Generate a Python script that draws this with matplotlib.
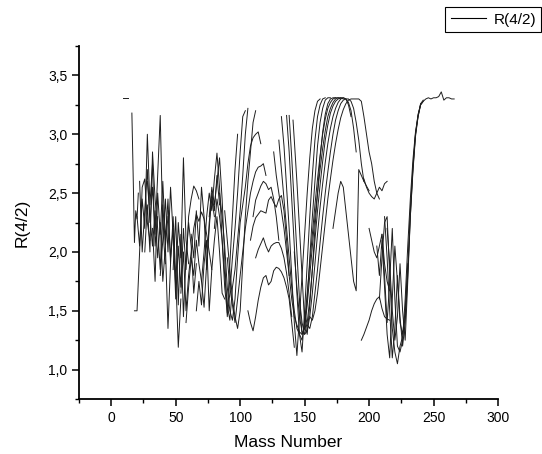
import matplotlib
matplotlib.use("Agg")
import matplotlib.pyplot as plt
from matplotlib.ticker import MultipleLocator, FuncFormatter
from matplotlib.lines import Line2D

plt.rcParams['font.family'] = ['Liberation Sans', 'DejaVu Sans']

# ---- isotope chains: mass number A and ratio R(4/2) ----
A_c01 = [9, 13]
R_c01 = [3.31, 3.31]
A_c02 = [16, 17, 18, 19, 20, 21]
R_c02 = [3.18, 2.65, 2.08, 2.35, 2.28, 2.5]
A_c03 = [18, 20, 22, 24, 26, 28, 30]
R_c03 = [1.5, 1.5, 2.0, 2.55, 2.62, 2.25, 2.1]
A_c04 = [20, 22, 24, 26, 28, 30, 32, 34, 36]
R_c04 = [2.3, 2.05, 2.45, 2.2, 3.0, 2.4, 2.75, 2.05, 2.3]
A_c05 = [22, 24, 26, 28, 30, 32, 34, 36, 38, 40, 42]
R_c05 = [2.6, 2.0, 2.35, 2.7, 2.25, 2.55, 2.15, 2.65, 3.16, 2.2, 1.9]
A_c06 = [26, 28, 30, 32, 34, 36, 38, 40, 42, 44]
R_c06 = [2.0, 2.4, 2.0, 2.85, 2.45, 2.2, 1.85, 2.4, 2.05, 2.3]
A_c07 = [28, 30, 32, 34, 36, 38, 40, 42, 44, 46]
R_c07 = [2.6, 2.3, 2.05, 2.35, 1.95, 2.25, 1.75, 2.05, 1.35, 1.9]
A_c08 = [32, 34, 36, 38, 40, 42, 44, 46, 48, 50, 52, 54]
R_c08 = [2.2, 1.75, 2.5, 2.15, 2.6, 2.1, 2.45, 1.9, 2.3, 1.8, 1.19, 1.6]
A_c09 = [38, 40, 42, 44, 46, 48, 50, 52, 54, 56, 58, 60]
R_c09 = [1.8, 2.1, 2.45, 2.0, 2.55, 2.15, 1.7, 2.25, 1.95, 2.8, 2.1, 1.9]
A_c10 = [44, 46, 48, 50, 52, 54, 56, 58, 60, 62, 64, 66, 68]
R_c10 = [2.35, 1.95, 2.2, 1.6, 2.05, 1.7, 2.2, 1.85, 2.3, 2.45, 2.56, 2.52, 2.45]
A_c11 = [48, 50, 52, 54, 56, 58, 60, 62, 64, 66]
R_c11 = [1.85, 2.3, 1.55, 2.15, 1.45, 1.95, 2.25, 2.05, 1.65, 1.9]
A_c12 = [54, 56, 58, 60, 62, 64, 66, 68, 70, 72, 74, 76, 78]
R_c12 = [1.65, 2.0, 1.5, 1.8, 2.0, 2.2, 2.32, 2.26, 2.34, 2.28, 2.15, 2.0, 1.85]
A_c13 = [58, 60, 62, 64, 66, 68, 70, 72, 74, 76, 78, 80]
R_c13 = [1.4, 1.7, 1.95, 1.8, 2.1, 1.9, 1.75, 1.53, 1.9, 2.25, 2.45, 2.3]
A_c14 = [62, 64, 66, 68, 70, 72, 74, 76, 78, 80, 82, 84]
R_c14 = [2.15, 1.95, 2.35, 2.05, 2.55, 2.3, 1.85, 2.2, 2.5, 2.35, 2.65, 2.4]
A_c15 = [70, 72, 74, 76, 78, 80, 82, 84, 86, 88, 90, 92, 94, 96, 98]
R_c15 = [1.75, 2.0, 2.3, 2.5, 2.35, 2.62, 2.84, 2.55, 2.1, 1.7, 1.48, 1.9, 2.3, 2.7, 3.0]
A_c16 = [76, 78, 80, 82, 84, 86, 88, 90, 92, 94, 96, 98, 100, 102, 104]
R_c16 = [2.3, 2.55, 2.4, 2.6, 2.8, 2.45, 1.95, 1.45, 1.65, 1.95, 2.2, 2.5, 2.85, 3.15, 3.2]
A_c17 = [80, 82, 84, 86, 88, 90, 92, 94, 96, 98, 100, 102, 104, 106]
R_c17 = [2.2, 2.45, 2.3, 2.1, 1.8, 1.55, 1.42, 1.7, 1.85, 2.1, 2.35, 2.65, 3.0, 3.22]
A_c18 = [84, 86, 88, 90, 92, 94, 96, 98, 100, 102, 104, 106, 108, 110, 112, 114, 116]
R_c18 = [2.5, 2.3, 2.05, 1.7, 1.5, 1.42, 1.6, 1.95, 2.25, 2.4, 2.55, 2.75, 2.9, 2.97, 3.0, 3.02, 2.92]
A_c19 = [88, 90, 92, 94, 96, 98, 100, 102, 104, 106, 108, 110, 112]
R_c19 = [2.35, 2.1, 1.85, 1.6, 1.45, 1.35, 1.5, 1.9, 2.3, 2.6, 2.85, 3.1, 3.2]
A_c20 = [90, 92, 94, 96, 98, 100, 102, 104, 106, 108, 110, 112, 114, 116, 118, 120]
R_c20 = [1.95, 1.7, 1.55, 1.4, 1.6, 1.8, 2.0, 2.2, 2.35, 2.5, 2.6, 2.68, 2.72, 2.73, 2.75, 2.65]
A_c21 = [106, 108, 110, 112, 114, 116, 118, 120, 122, 124, 126, 128, 130, 132, 134, 136, 138, 140, 142]
R_c21 = [1.5, 1.4, 1.33, 1.45, 1.59, 1.7, 1.78, 1.8, 1.72, 1.75, 1.84, 1.87, 1.86, 1.83, 1.78, 1.7, 1.6, 1.4, 1.19]
A_c22 = [112, 114, 116, 118, 120, 122, 124, 126, 128, 130, 132, 134, 136, 138, 140]
R_c22 = [1.95, 2.02, 2.07, 2.12, 2.05, 2.0, 2.05, 2.07, 2.08, 2.08, 2.03, 1.95, 1.82, 1.65, 1.45]
A_c23 = [108, 110, 112, 114, 116, 118, 120, 122, 124, 126, 128, 130, 132, 134, 136, 138]
R_c23 = [2.1, 2.22, 2.29, 2.32, 2.35, 2.34, 2.33, 2.44, 2.47, 2.42, 2.38, 2.45, 2.48, 2.35, 2.1, 1.8]
A_c24 = [110, 112, 114, 116, 118, 120, 122, 124, 126, 128, 130]
R_c24 = [2.3, 2.44, 2.5, 2.56, 2.6, 2.58, 2.53, 2.55, 2.45, 2.3, 2.1]
A_c25 = [66, 68, 70, 72, 74, 76, 78, 80, 82, 84, 86, 88]
R_c25 = [1.5, 1.75, 1.55, 1.9, 2.1, 1.5, 1.85, 2.1, 2.3, 2.0, 1.65, 1.6]

# rare-earth chains
A_k0 = [132, 134, 136, 138, 140, 142, 144, 146, 148, 150, 152, 154, 156, 158, 160, 162]
R_k0 = [3.15, 2.9, 2.55, 2.2, 1.8, 1.4, 1.12, 1.45, 1.8, 2.15, 2.5, 2.8, 3.05, 3.2, 3.28, 3.3]
A_k1 = [136, 138, 140, 142, 144, 146, 148, 150, 152, 154, 156, 158, 160, 162, 164, 166]
R_k1 = [3.16, 2.85, 2.45, 2.05, 1.65, 1.3, 1.15, 1.5, 1.9, 2.3, 2.65, 2.95, 3.15, 3.25, 3.3, 3.31]
A_k2 = [138, 140, 142, 144, 146, 148, 150, 152, 154, 156, 158, 160, 162, 164, 166, 168, 170]
R_k2 = [3.16, 2.8, 2.4, 2.0, 1.6, 1.3, 1.35, 1.6, 1.95, 2.3, 2.6, 2.9, 3.1, 3.22, 3.29, 3.31, 3.31]
A_k3 = [141, 142, 144, 146, 148, 150, 152, 154, 156, 158, 160, 162, 164, 166, 168, 170, 172, 174]
R_k3 = [3.12, 2.95, 2.6, 2.2, 1.8, 1.4, 1.3, 1.55, 1.85, 2.2, 2.5, 2.8, 3.02, 3.17, 3.26, 3.3, 3.31, 3.31]
A_k4 = [130, 132, 134, 136, 138, 140, 142, 144, 146, 148, 150, 152, 154, 156, 158, 160, 162, 164, 166, 168, 170, 172, 174, 176, 178]
R_k4 = [2.95, 2.7, 2.45, 2.2, 1.95, 1.7, 1.5, 1.35, 1.3, 1.25, 1.4, 1.65, 1.9, 2.15, 2.4, 2.62, 2.82, 3.0, 3.13, 3.22, 3.27, 3.3, 3.31, 3.31, 3.3]
A_k5 = [126, 128, 130, 132, 134, 136, 138, 140, 142, 144, 146, 148, 150, 152, 154, 156, 158, 160, 162, 164, 166, 168, 170, 172, 174, 176, 178, 180]
R_k5 = [2.85, 2.65, 2.5, 2.35, 2.2, 2.0, 1.8, 1.6, 1.45, 1.38, 1.32, 1.3, 1.35, 1.55, 1.8, 2.05, 2.3, 2.5, 2.7, 2.88, 3.03, 3.15, 3.22, 3.27, 3.3, 3.31, 3.31, 3.3]
A_k6 = [142, 144, 146, 148, 150, 152, 154, 156, 158, 160, 162, 164, 166, 168, 170, 172, 174, 176, 178, 180, 182, 184, 186]
R_k6 = [2.0, 1.7, 1.45, 1.32, 1.3, 1.4, 1.6, 1.85, 2.1, 2.35, 2.57, 2.77, 2.95, 3.08, 3.18, 3.24, 3.28, 3.3, 3.31, 3.31, 3.3, 3.25, 3.15]
A_k7 = [146, 148, 150, 152, 154, 156, 158, 160, 162, 164, 166, 168, 170, 172, 174, 176, 178, 180, 182, 184, 186, 188, 190]
R_k7 = [1.6, 1.4, 1.3, 1.33, 1.45, 1.65, 1.9, 2.15, 2.38, 2.58, 2.76, 2.92, 3.05, 3.15, 3.22, 3.27, 3.3, 3.31, 3.3, 3.27, 3.2, 3.05, 2.85]
A_k8 = [150, 152, 154, 156, 158, 160, 162, 164, 166, 168, 170, 172, 174, 176, 178, 180, 182, 184, 186, 188, 190, 192, 194, 196]
R_k8 = [1.5, 1.38, 1.35, 1.45, 1.65, 1.85, 2.08, 2.3, 2.5, 2.68, 2.85, 3.0, 3.12, 3.2, 3.26, 3.29, 3.3, 3.3, 3.28, 3.22, 3.1, 2.95, 2.75, 2.6]
A_k9 = [154, 156, 158, 160, 162, 164, 166, 168, 170, 172, 174, 176, 178, 180, 182, 184, 186, 188, 190, 192, 194, 196, 198, 200, 202, 204, 206, 208]
R_k9 = [1.45, 1.42, 1.5, 1.65, 1.85, 2.05, 2.25, 2.45, 2.62, 2.78, 2.92, 3.04, 3.14, 3.21, 3.26, 3.29, 3.3, 3.3, 3.3, 3.3, 3.28, 3.15, 3.0, 2.85, 2.75, 2.6, 2.5, 2.45]

# heavy chains
A_w1 = [196, 198, 200, 202, 204, 206, 208, 210, 212, 214]
R_w1 = [2.62, 2.55, 2.5, 2.47, 2.45, 2.5, 2.55, 2.52, 2.58, 2.6]
A_w2 = [172, 174, 176, 178, 180, 182, 184, 186, 188, 190, 192, 194, 196, 198, 200]
R_w2 = [2.2, 2.35, 2.5, 2.6, 2.55, 2.35, 2.15, 1.95, 1.75, 1.67, 2.7, 2.65, 2.6, 2.56, 2.52]
A_w3 = [200, 202, 204, 206, 208, 210, 212, 214, 216]
R_w3 = [2.2, 2.1, 2.0, 1.95, 2.05, 2.15, 1.9, 1.75, 1.67]
A_w4 = [194, 196, 198, 200, 202, 204, 206, 208, 210, 212, 214, 216]
R_w4 = [1.25, 1.3, 1.36, 1.42, 1.5, 1.56, 1.6, 1.62, 1.52, 1.45, 1.43, 1.42]

# actinide-side chains
A_d1 = [212, 214, 216, 218, 220, 222, 224, 226, 228, 230, 232, 234, 236, 238, 240, 242]
R_d1 = [2.3, 1.95, 1.5, 1.1, 1.35, 1.8, 1.45, 1.2, 1.4, 1.8, 2.3, 2.7, 3.0, 3.15, 3.25, 3.28]
A_d2 = [210, 212, 214, 216, 218, 220, 222, 224, 226, 228, 230, 232, 234, 236, 238, 240]
R_d2 = [2.15, 1.8, 1.4, 1.75, 2.2, 1.6, 1.2, 1.15, 1.25, 1.6, 2.05, 2.45, 2.78, 3.02, 3.16, 3.26]
A_d3 = [208, 210, 212, 214, 216, 218, 220, 222, 224, 226, 228, 230, 232, 234, 236, 238, 240, 242, 244, 246, 248, 250, 252, 254, 256, 258, 260, 262, 264, 266]
R_d3 = [1.6, 1.95, 2.25, 2.3, 1.8, 1.35, 1.15, 1.05, 1.2, 1.28, 1.45, 1.85, 2.35, 2.72, 3.0, 3.17, 3.25, 3.28, 3.3, 3.31, 3.3, 3.31, 3.31, 3.32, 3.36, 3.29, 3.31, 3.31, 3.3, 3.3]
A_d4 = [214, 216, 218, 220, 222, 224, 226, 228, 230, 232, 234, 236, 238, 240, 242]
R_d4 = [2.2, 1.9, 1.5, 1.25, 1.45, 1.9, 1.5, 1.25, 1.75, 2.3, 2.68, 2.98, 3.15, 3.26, 3.29]
A_d5 = [206, 208, 210, 212, 214, 216, 218, 220, 222, 224, 226, 228, 230]
R_d5 = [2.05, 1.8, 2.1, 1.7, 1.3, 1.1, 1.6, 2.05, 1.75, 1.4, 1.3, 1.5, 1.9]

chains = [
    (A_c01, R_c01), (A_c02, R_c02), (A_c03, R_c03), (A_c04, R_c04), (A_c05, R_c05),
    (A_c06, R_c06), (A_c07, R_c07), (A_c08, R_c08), (A_c09, R_c09), (A_c10, R_c10),
    (A_c11, R_c11), (A_c12, R_c12), (A_c13, R_c13), (A_c14, R_c14), (A_c15, R_c15),
    (A_c16, R_c16), (A_c17, R_c17), (A_c18, R_c18), (A_c19, R_c19), (A_c20, R_c20),
    (A_c21, R_c21), (A_c22, R_c22), (A_c23, R_c23), (A_c24, R_c24), (A_c25, R_c25),
    (A_k0, R_k0), (A_k1, R_k1), (A_k2, R_k2), (A_k3, R_k3), (A_k4, R_k4),
    (A_k5, R_k5), (A_k6, R_k6), (A_k7, R_k7), (A_k8, R_k8), (A_k9, R_k9),
    (A_w1, R_w1), (A_w2, R_w2), (A_w3, R_w3), (A_w4, R_w4),
    (A_d1, R_d1), (A_d2, R_d2), (A_d3, R_d3), (A_d4, R_d4), (A_d5, R_d5),
]

x_label = "Mass Number"
y_label = "R(4/2)"
series_label = "R(4/2)"

fig = plt.figure(figsize=(5.42, 4.54), dpi=100)
ax = fig.add_axes([0.1458, 0.121, 0.9188 - 0.1458, 0.8987 - 0.121])

for A, R in chains:
    ax.plot(A, R, color='#1e1e1e', lw=0.7)

ax.set_xlim(-25, 300)
ax.set_ylim(0.75, 3.75)
ax.xaxis.set_major_locator(MultipleLocator(50))
ax.xaxis.set_minor_locator(MultipleLocator(25))
ax.yaxis.set_major_locator(MultipleLocator(0.5))
ax.yaxis.set_minor_locator(MultipleLocator(0.25))
ax.yaxis.set_major_formatter(FuncFormatter(lambda v, p: f"{v:.1f}".replace('.', ',')))

for s in ['top', 'right']:
    ax.spines[s].set_visible(False)
for s in ['left', 'bottom']:
    ax.spines[s].set_linewidth(1.3)

ax.tick_params(which='major', direction='out', length=5, width=1.1, labelsize=10, colors='black')
ax.tick_params(which='minor', direction='out', length=3, width=1.0)

ax.set_xlabel(x_label, fontsize=12.5, labelpad=7)
ax.set_ylabel(y_label, fontsize=12.5, labelpad=13)

handle = Line2D([], [], color='black', lw=0.8)
leg = fig.legend([handle], [series_label], loc='upper right', bbox_to_anchor=(0.999, 0.984),
                 frameon=True, fancybox=False, edgecolor='black', framealpha=1,
                 fontsize=11, handlelength=2.3, borderpad=0.35, borderaxespad=0,
                 handletextpad=0.5)
leg.get_frame().set_linewidth(0.8)

fig.savefig("out.png", dpi=100)
